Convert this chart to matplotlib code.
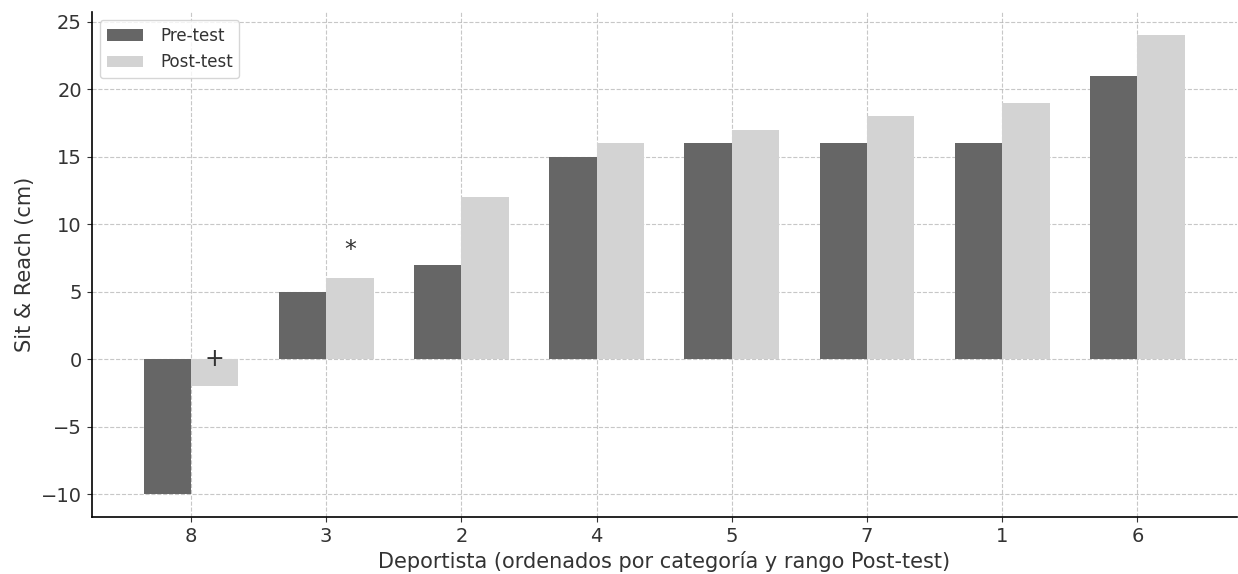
import matplotlib.pyplot as plt
import numpy as np

athletes = ['8', '3', '2', '4', '5', '7', '1', '6']
pre_test = [-10, 5, 7, 15, 16, 16, 16, 21]
post_test = [-2, 6, 12, 16, 17, 18, 19, 24]
marks = {0: '+', 1: '*'}

plt.rcParams['font.family'] = ['DejaVu Sans']
plt.rcParams['font.size'] = 12
plt.rcParams['text.color'] = '#333333'
plt.rcParams['axes.labelcolor'] = '#333333'
plt.rcParams['xtick.color'] = '#333333'
plt.rcParams['ytick.color'] = '#333333'

fig, ax = plt.subplots(figsize=(12.38, 5.74), dpi=100)
x = np.arange(len(athletes))
w = 0.35

ax.bar(x - w / 2, pre_test, w, color='#666666', label='Pre-test', zorder=2)
ax.bar(x + w / 2, post_test, w, color='#d3d3d3', label='Post-test', zorder=2)

for i, m in marks.items():
    if m == '+':
        ax.text(x[i] + w / 2, max(post_test[i], 0), m, ha='center', va='center', fontsize=17, zorder=3)
    else:
        ax.text(x[i] + w / 2, post_test[i] + 1.2, m, ha='center', va='bottom', fontsize=17, zorder=3)

ax.set_xticks(x)
ax.set_xticklabels(athletes)
ax.tick_params(labelsize=14)
ax.set_xlabel('Deportista (ordenados por categoría y rango Post-test)', fontsize=15)
ax.set_ylabel('Sit & Reach (cm)', fontsize=15)
ax.grid(True, linestyle='--', color='#b0b0b0', alpha=0.7, zorder=0)
ax.set_axisbelow(True)
ax.spines['top'].set_visible(False)
ax.spines['right'].set_visible(False)
ax.spines['left'].set_linewidth(1.2)
ax.spines['bottom'].set_linewidth(1.2)
ax.legend(loc='upper left', fontsize=12, handlelength=2.2, handletextpad=1.0)

plt.subplots_adjust(left=0.074, right=0.999, top=0.979, bottom=0.099)
plt.savefig('out.png', dpi=100)
